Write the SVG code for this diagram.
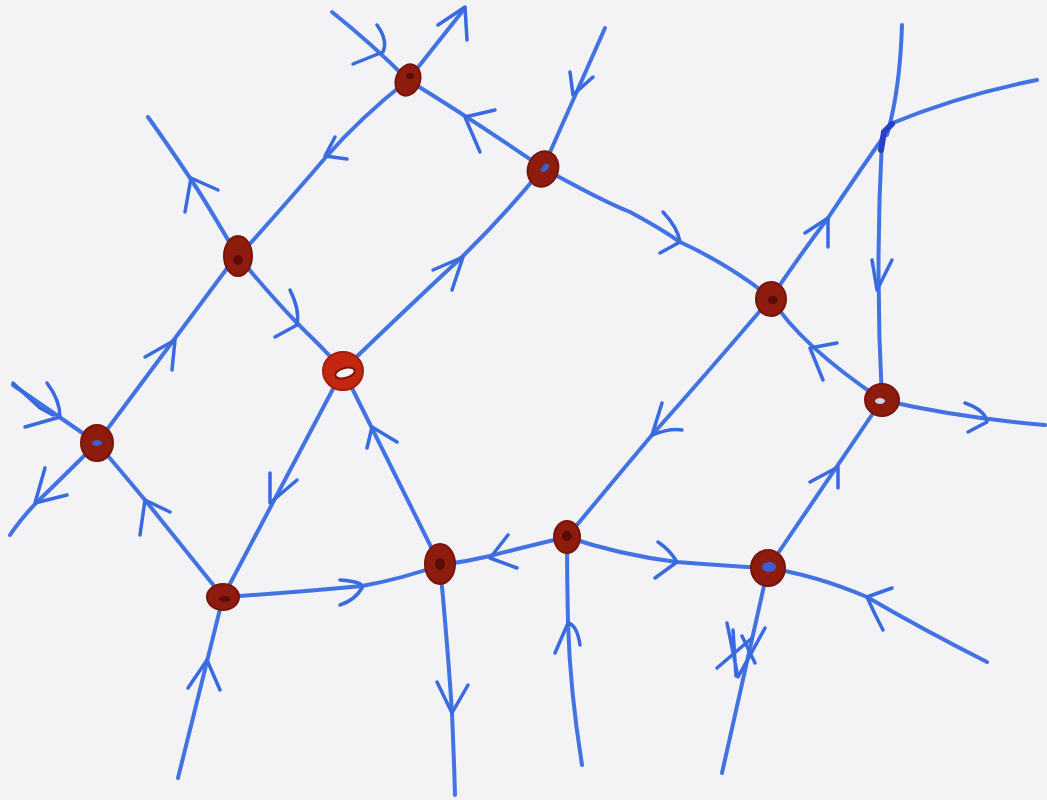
<svg xmlns="http://www.w3.org/2000/svg" width="1047" height="800" viewBox="0 0 1047 800">
<style>
.e{fill:none;stroke:#4173e2;stroke-width:4;stroke-linecap:round;stroke-linejoin:round}
.h{fill:none;stroke:#3a6ae0;stroke-width:3.5;stroke-linecap:round;stroke-linejoin:round}
.n{fill:#8e1c0e;stroke:#7a1408;stroke-width:2}
.nb{fill:#c3270f;stroke:#a81d0a;stroke-width:2}
.c{fill:#5a0c06}
.ci{fill:#3b5fd0}
</style>
<rect x="0" y="0" width="1047" height="800" fill="#f3f3f5"/>
<g id="connectors">
<path class="e" d="M332,12 Q372,44 408,80"/>
<path class="h" d="M377,25 Q388,40 383,52 L353,64"/>
<path class="e" d="M408,80 L465,8"/>
<path class="h" d="M438,25 L465,7 L467,40"/>
<path class="e" d="M408,80 Q360,118 326,157 Q285,205 238,257"/>
<path class="h" d="M335,137 L325,156 L347,159"/>
<path class="e" d="M543,168 Q470,118 408,80"/>
<path class="h" d="M495,110 L465,117 L480,152"/>
<path class="e" d="M605,28 Q575,95 543,168"/>
<path class="h" d="M570,72 L573,95 L593,77"/>
<path class="e" d="M238,257 Q205,200 190,178 Q168,145 148,117"/>
<path class="h" d="M185,212 L191,178 L218,190"/>
<path class="e" d="M237,255 L97,443"/>
<path class="h" d="M145,357 L175,340 L172,370"/>
<path class="e" d="M237,255 Q270,295 297,323 Q320,345 343,370"/>
<path class="h" d="M290,290 Q300,310 297,325 L275,337"/>
<path class="e" d="M345,368 Q405,310 463,256 Q505,215 543,168"/>
<path class="h" d="M433,270 L463,257 L452,290"/>
<path class="e" d="M440,565 L343,370"/>
<path class="h" d="M367,448 L372,427 L397,442"/>
<path class="e" d="M343,370 L223,597"/>
<path class="h" d="M270,473 L270,503 L297,480"/>
<path class="e" d="M13,385 L97,443"/>
<path class="h" d="M47,383 Q60,400 60,417 L25,427"/>
<path class="h" d="M13,383 L40,408 L53,415"/>
<path class="e" d="M97,443 Q60,480 36,503 Q20,520 10,535"/>
<path class="h" d="M45,468 L35,503 L67,495"/>
<path class="e" d="M223,597 Q185,550 145,500 Q120,470 97,443"/>
<path class="h" d="M140,535 L145,500 L170,512"/>
<path class="e" d="M178,778 L223,597"/>
<path class="h" d="M188,688 L207,660 L220,690"/>
<path class="e" d="M223,597 Q300,592 362,586 Q405,578 440,565"/>
<path class="h" d="M340,580 Q365,582 362,588 Q355,600 340,605"/>
<path class="e" d="M567,537 Q520,548 490,556 Q465,562 440,565"/>
<path class="h" d="M508,535 L490,558 L517,568"/>
<path class="e" d="M440,565 Q448,650 452,713 Q454,760 455,795"/>
<path class="h" d="M437,682 L452,713 L468,685"/>
<path class="e" d="M582,765 Q570,690 568,623 Q567,580 567,537"/>
<path class="h" d="M555,653 L568,623 Q577,625 580,645"/>
<path class="e" d="M567,537 Q620,555 677,562 Q725,566 768,568"/>
<path class="h" d="M658,542 Q670,550 677,562 L655,578"/>
<path class="e" d="M771,298 Q710,370 652,435 Q610,485 567,537"/>
<path class="h" d="M662,403 L652,435 Q670,428 682,430"/>
<path class="e" d="M543,168 Q600,200 630,212 Q660,228 680,242 Q730,265 771,298"/>
<path class="h" d="M663,212 Q678,228 680,242 L660,253"/>
<path class="e" d="M771,298 Q800,255 828,218 Q860,170 887,132"/>
<path class="h" d="M805,233 L828,218 L828,247"/>
<path class="e" d="M902,25 Q900,90 887,135"/>
<path class="e" d="M890,124 Q960,95 1037,80"/>
<path class="e" d="M882,140 Q875,270 882,400"/>
<path class="h" d="M872,260 L877,290 L892,260"/>
<path class="e" d="M771,298 Q800,345 882,400"/>
<path class="h" d="M837,343 L810,348 L823,380"/>
<path class="e" d="M882,400 Q960,418 1045,425"/>
<path class="h" d="M965,403 Q985,410 987,422 L968,432"/>
<path class="e" d="M768,568 L882,400"/>
<path class="h" d="M810,482 L838,467 L838,488"/>
<path class="e" d="M987,662 Q920,628 867,597 Q815,575 768,568"/>
<path class="h" d="M892,588 L867,597 Q875,615 883,630"/>
<path class="e" d="M768,568 L722,773"/>
<path class="h" d="M727,623 L738,677 L765,628 M717,668 L752,638 M755,663 L742,636 M733,630 L736,676"/>
<path d="M881,150 L884,132 L892,124" fill="none" stroke="#2a3fc8" stroke-width="6" stroke-linecap="round"/>
</g>
<g id="node-A"><ellipse class="n" cx="408" cy="80" rx="12" ry="16" transform="rotate(20 408 80)"/><ellipse class="c" cx="410" cy="76" rx="4" ry="3"/></g>
<g id="node-B"><ellipse class="n" cx="543" cy="169" rx="15" ry="18" transform="rotate(20 543 169)"/><ellipse class="ci" cx="545" cy="168" rx="5" ry="3" transform="rotate(-40 545 168)"/></g>
<g id="node-C"><ellipse class="n" cx="238" cy="256" rx="14" ry="20"/><ellipse class="c" cx="238" cy="260" rx="5" ry="5"/></g>
<g id="node-D"><ellipse class="nb" cx="343" cy="371" rx="20" ry="19"/><ellipse cx="345" cy="373" rx="10" ry="5" fill="#f3f3f5" stroke="#7a1408" stroke-width="2" transform="rotate(-15 345 373)"/></g>
<g id="node-E"><ellipse class="n" cx="97" cy="443" rx="16" ry="18"/><ellipse class="ci" cx="97" cy="443" rx="5" ry="3"/></g>
<g id="node-F"><ellipse class="n" cx="771" cy="299" rx="15" ry="17"/><ellipse class="c" cx="773" cy="300" rx="5" ry="4"/></g>
<g id="node-G"><ellipse class="n" cx="882" cy="400" rx="17" ry="16"/><ellipse cx="880" cy="401" rx="5" ry="3" fill="#cfd3e8"/></g>
<g id="node-H"><ellipse class="n" cx="223" cy="597" rx="16" ry="13"/><ellipse class="c" cx="225" cy="599" rx="6" ry="3"/></g>
<g id="node-I"><ellipse class="n" cx="440" cy="564" rx="15" ry="20"/><ellipse class="c" cx="440" cy="564" rx="5" ry="6"/></g>
<g id="node-J"><ellipse class="n" cx="567" cy="537" rx="13" ry="16"/><ellipse class="c" cx="567" cy="536" rx="5" ry="5"/></g>
<g id="node-K"><ellipse class="n" cx="768" cy="568" rx="17" ry="18"/><ellipse class="ci" cx="769" cy="567" rx="7" ry="5"/></g>
</svg>
